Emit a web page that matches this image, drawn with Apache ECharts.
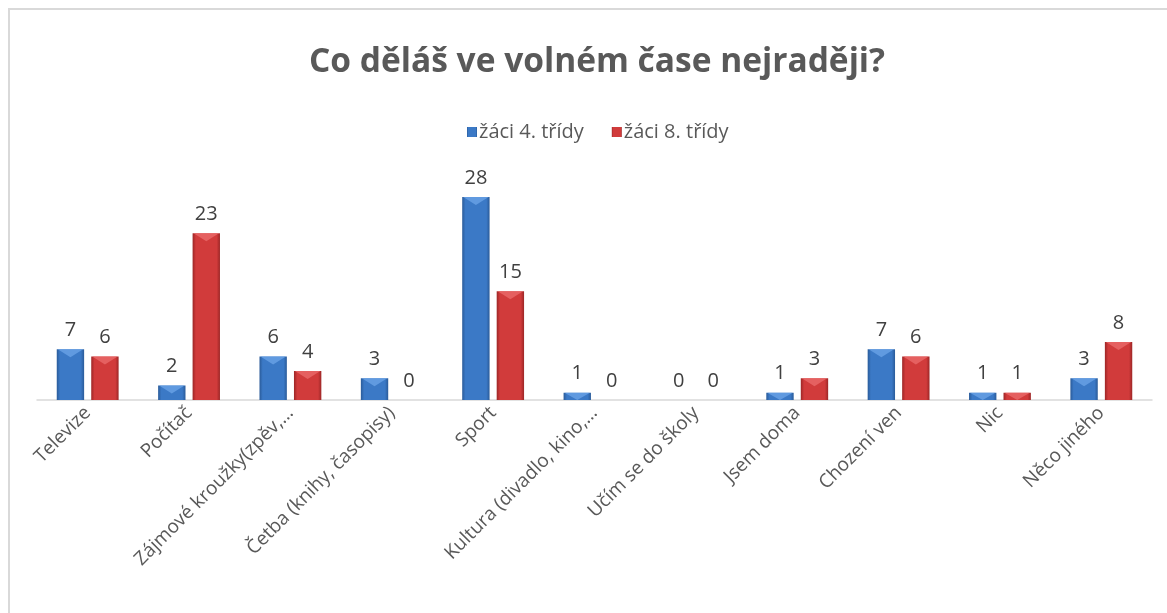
<!DOCTYPE html>
<html><head><meta charset="utf-8">
<script src="https://cdn.jsdelivr.net/npm/echarts@6/dist/echarts.min.js"></script>
<style>html,body{margin:0;padding:0;background:#fff}#c{width:1167px;height:613px}</style>
</head><body><div id="c"></div>
<script>
var categories = ['Televize','Počítač','Zájmové kroužky(zpěv,…','Četba (knihy, časopisy)','Sport','Kultura (divadlo, kino,…','Učím se do školy','Jsem doma','Chození ven','Nic','Něco jiného'];
var seriesNames = ['žáci 4. třídy','žáci 8. třídy'];
var grade4 = [7,2,6,3,28,1,0,1,7,1,3];
var grade8 = [6,23,4,0,15,0,0,3,6,1,8];

var BW = 0.27, GAPF = 0.26;
function grad(dark, mid){
  return {type:'linear',x:0,y:0,x2:1,y2:0,colorStops:[
    {offset:0,color:dark},{offset:0.12,color:mid},{offset:0.88,color:mid},{offset:1,color:dark}]};
}
var blueDark='#2a5b99', blueMid='#3b79c6', blueTop='#6aa3e6';
var redDark='#9c2626', redMid='#d13b3b', redTop='#ea6a6a';

function chevron(idx, topColor){
  return function(params, api){
    var ci = api.value(0), v = api.value(1);
    if (!v) return null;
    var base = api.coord([ci, 0]);
    var top = api.coord([ci, v]);
    var band = api.size([1,0])[0];
    var bw = band*BW, gap = bw*GAPF;
    var x0 = base[0] - (2*bw+gap)/2 + idx*(bw+gap);
    var x1 = x0 + bw;
    var h = Math.min(8, (base[1]-top[1]));
    return {type:'polygon', shape:{points:[[x0+1,top[1]],[x1-1,top[1]],[(x0+x1)/2,top[1]+h]]},
      style:{fill:topColor, opacity:0.8}, silent:true};
  };
}
function pairs(arr){ return arr.map(function(v,i){return [i,v];}); }

var chart = echarts.init(document.getElementById('c'));
var labelStyle = {show:true, position:'top', distance:9, color:'#404040', fontSize:20, fontFamily:'Open Sans'};
chart.setOption({
  animation:false,
  textStyle:{fontFamily:'Open Sans'},
  graphic:[{type:'rect', shape:{x:9,y:9,width:1200,height:700}, style:{fill:'none', stroke:'#d9d9d9', lineWidth:2}, silent:true}],
  title:{text:'Co děláš ve volném čase nejraději?', left:304, top:40,
    textStyle:{fontSize:33.5, fontWeight:'bold', color:'#595959', fontFamily:'Open Sans'}},
  legend:{top:117, left:462, itemWidth:10, itemHeight:10, itemGap:28, icon:'rect',
    textStyle:{fontSize:20, color:'#595959', padding:[0,0,0,-3]},
    data:seriesNames},
  grid:{left:37, right:15, top:182.5, bottom:213, containLabel:false},
  xAxis:{type:'category', data:categories, axisTick:{show:false},
    axisLine:{lineStyle:{color:'#d9d9d9', width:1.5}},
    axisLabel:{rotate:45, interval:0, fontSize:19, color:'#595959', margin:10}},
  yAxis:{type:'value', min:0, max:30, show:false, splitLine:{show:false}},
  series:[
    {name:seriesNames[0], type:'bar', data:grade4, barWidth:'27%', barGap:'26%',
      itemStyle:{color:grad(blueDark,blueMid)}, label:labelStyle},
    {name:seriesNames[1], type:'bar', data:grade8, barWidth:'27%', barGap:'26%',
      itemStyle:{color:grad(redDark,redMid)}, label:labelStyle},
    {type:'custom', name:'c4', data:pairs(grade4), renderItem:chevron(0, blueTop), z:5, silent:true},
    {type:'custom', name:'c8', data:pairs(grade8), renderItem:chevron(1, redTop), z:5, silent:true}
  ]
});
</script></body></html>
